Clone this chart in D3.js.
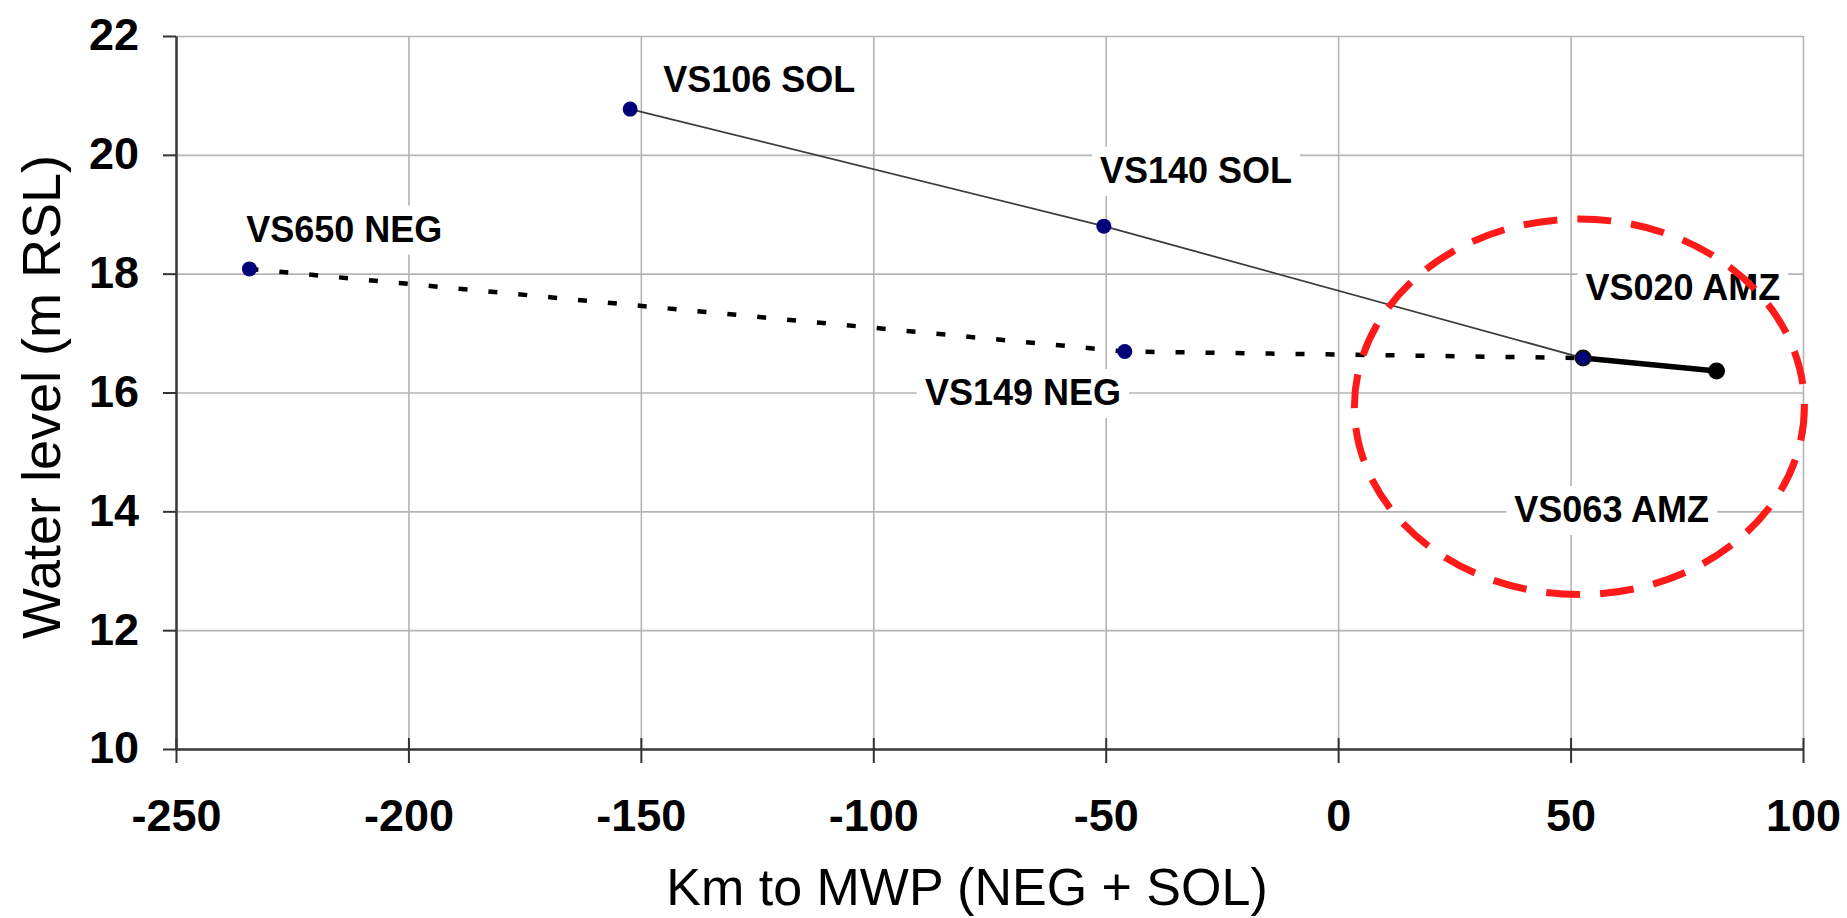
<!DOCTYPE html>
<html>
<head>
<meta charset="utf-8">
<script src="https://cdn.jsdelivr.net/npm/d3@7"></script>
<style>
  html, body { margin: 0; padding: 0; background: #fff; }
  svg { display: block; font-family: "Liberation Sans", Arial, sans-serif; }
</style>
</head>
<body>
<svg id="chart" width="1847" height="918"></svg>
<script>
// ---- data ----
const xTicks = [-250, -200, -150, -100, -50, 0, 50, 100];
const yTicks = [10, 12, 14, 16, 18, 20, 22];

// NEG series (dotted): VS650 NEG, VS149 NEG, confluence
const negKm    = [-234.2, -45.9, 52.7];
const negLevel = [18.08, 16.69, 16.58];
// SOL series (thin solid): VS106 SOL, VS140 SOL, confluence
const solKm    = [-152.3, -50.4, 52.7];
const solLevel = [20.77, 18.80, 16.58];
// AMZ series (thick solid): VS020 AMZ (confluence), VS063 AMZ
const amzKm    = [52.7, 81.4];
const amzLevel = [16.58, 16.36];

const stationNames = ["VS650 NEG", "VS106 SOL", "VS140 SOL", "VS149 NEG", "VS020 AMZ", "VS063 AMZ"];
const stationLabelKm    = [-234.9, -145.2, -51.25, -88.9, 53.2, 37.9];
const stationLabelLevel = [18.54, 21.06, 19.53, 15.79, 17.55, 13.82];

const highlightCenter = [51.9, 15.76];
const highlightRadius = [48.4, 3.16];

const xTitle = "Km to MWP (NEG + SOL)";
const yTitle = "Water level (m RSL)";

// ---- layout ----
const svg = d3.select("#chart");
const L = 176, R = 1803, T = 36, B = 749;
const x = d3.scaleLinear().domain([-250, 100]).range([L, R]);
const y = d3.scaleLinear().domain([10, 22]).range([B, T]);

svg.append("rect").attr("width", 1847).attr("height", 918).attr("fill", "#fff");

// gridlines
svg.append("g").attr("transform", `translate(0,${B})`)
  .call(d3.axisBottom(x).tickValues(xTicks).tickSize(-(B - T)).tickFormat(""))
  .call(g => g.select(".domain").remove())
  .call(g => g.selectAll("line").attr("stroke", "#b4b4b4").attr("stroke-width", 1.6));
svg.append("g").attr("transform", `translate(${L},0)`)
  .call(d3.axisLeft(y).tickValues(yTicks).tickSize(-(R - L)).tickFormat(""))
  .call(g => g.select(".domain").remove())
  .call(g => g.selectAll("line").attr("stroke", "#b4b4b4").attr("stroke-width", 1.6));

// x axis
const xAxis = svg.append("g").attr("transform", `translate(0,${B})`)
  .call(d3.axisBottom(x).tickValues(xTicks).tickSize(14).tickSizeOuter(0).tickFormat(d3.format("d")));
xAxis.select(".domain").attr("stroke", "#3a3a3a").attr("stroke-width", 2.5);
xAxis.selectAll(".tick line").attr("y1", -11).attr("stroke", "#333").attr("stroke-width", 2);
xAxis.selectAll(".tick text")
  .attr("y", 82).attr("dy", 0)
  .attr("font-size", 45).attr("font-weight", "bold").attr("font-family", "Liberation Sans, Arial, sans-serif")
  .attr("fill", "#000").text(d => d < 0 ? "-" + Math.abs(d) : d);

// y axis
const yAxis = svg.append("g").attr("transform", `translate(${L},0)`)
  .call(d3.axisLeft(y).tickValues(yTicks).tickSize(13).tickSizeOuter(0));
yAxis.select(".domain").attr("stroke", "#3a3a3a").attr("stroke-width", 2.5);
yAxis.selectAll(".tick line").attr("stroke", "#333").attr("stroke-width", 2);
yAxis.selectAll(".tick text")
  .attr("x", -37).attr("dy", "0.31em")
  .attr("font-size", 45).attr("font-weight", "bold").attr("font-family", "Liberation Sans, Arial, sans-serif")
  .attr("fill", "#000");

// axis titles
svg.append("text").attr("x", 967).attr("y", 905).attr("text-anchor", "middle")
  .attr("font-size", 52).attr("fill", "#000").text(xTitle);
svg.append("text").attr("transform", `translate(60,397) rotate(-90)`).attr("text-anchor", "middle")
  .attr("font-size", 54).attr("fill", "#000").text(yTitle);

// lines
const line = d3.line().x(d => x(d[0])).y(d => y(d[1]));
const neg = negKm.map((k, i) => [k, negLevel[i]]);
const sol = solKm.map((k, i) => [k, solLevel[i]]);
const amz = amzKm.map((k, i) => [k, amzLevel[i]]);

svg.append("path").datum(neg).attr("d", line).attr("fill", "none")
  .attr("stroke", "#000").attr("stroke-width", 4.5).attr("stroke-dasharray", "9,21");
svg.append("path").datum(sol).attr("d", line).attr("fill", "none")
  .attr("stroke", "#3c3c3c").attr("stroke-width", 1.8);
svg.append("path").datum(amz).attr("d", line).attr("fill", "none")
  .attr("stroke", "#000").attr("stroke-width", 5.5);

// markers
const navyPts = [neg[0], sol[0], sol[1], neg[1]];
svg.selectAll(".navy").data(navyPts).enter().append("circle")
  .attr("cx", d => x(d[0])).attr("cy", d => y(d[1])).attr("r", 7.5)
  .attr("fill", "#00007a");
svg.append("circle").attr("cx", x(amz[0][0])).attr("cy", y(amz[0][1])).attr("r", 7.5)
  .attr("fill", "#00007a").attr("stroke", "#111").attr("stroke-width", 2);
svg.append("circle").attr("cx", x(amz[1][0])).attr("cy", y(amz[1][1])).attr("r", 8.5)
  .attr("fill", "#000");

// station labels with white background
stationNames.forEach((name, i) => {
  const g = svg.append("g");
  const rect = g.append("rect").attr("fill", "#fff");
  const t = g.append("text").attr("x", x(stationLabelKm[i])).attr("y", y(stationLabelLevel[i]))
    .attr("font-size", 36).attr("font-weight", "bold").attr("fill", "#000").text(name);
  const bb = t.node().getBBox();
  rect.attr("x", bb.x - 8).attr("y", bb.y - 3).attr("width", bb.width + 16).attr("height", bb.height + 8);
});

// red dashed highlight ellipse
svg.append("ellipse")
  .attr("cx", x(highlightCenter[0])).attr("cy", y(highlightCenter[1]))
  .attr("rx", x(highlightCenter[0] + highlightRadius[0]) - x(highlightCenter[0]))
  .attr("ry", y(highlightCenter[1] - highlightRadius[1]) - y(highlightCenter[1]))
  .attr("fill", "none").attr("stroke", "#ff1a1a").attr("stroke-width", 7)
  .attr("stroke-dasharray", "34,20");
</script>
</body>
</html>
